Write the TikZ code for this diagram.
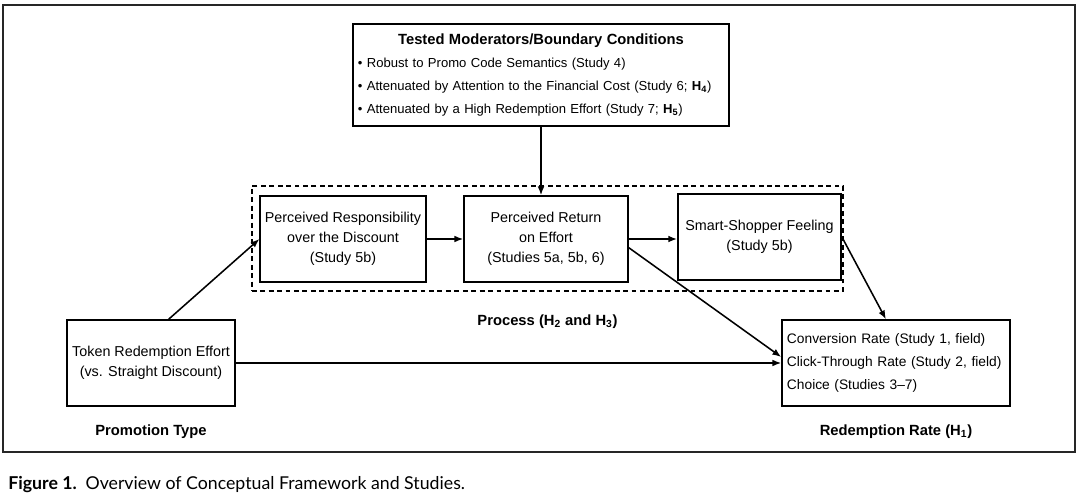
\documentclass[tikz,border=0pt]{standalone}
\usepackage{fontspec}
\setmainfont{Liberation Sans}
\newfontfamily\captionfont{Lato}
\usetikzlibrary{arrows.meta, positioning}

\begin{document}
\begin{tikzpicture}[
    x=0.025cm, y=-0.025cm,
    box/.style={rectangle, minimum width=4.1cm, minimum height=2.15cm, 
                align=center, draw=black, line width=1.1pt, font=\fontsize{10.2}{14.3}\selectfont},
    listbox/.style={rectangle, draw=black, line width=1.1pt, inner sep=0pt, align=left,
                    font=\fontsize{9.8}{16.3}\selectfont},
    groupbox/.style={rectangle, minimum width=14.78cm, minimum height=2.63cm, 
                     draw=black, line width=1.1pt, dash pattern=on 3.5pt off 2.5pt},
    arrow/.style={-{Latex[length=2.2mm, width=1.7mm]}, line width=1.1pt},
    labelstyle/.style={font=\fontsize{10.5}{12}\selectfont\bfseries}
]
\useasboundingbox (0,0) rectangle (1080,499);

% Frame
\draw[line width=0.8pt, draw=black!85] (3,5) rectangle (1075,452);

% ==================== MODERATORS ====================
\node[listbox, minimum width=9.4cm, minimum height=2.55cm, text width=9.15cm, 
      font=\fontsize{9.3}{16.3}\selectfont] (moderators) at (541,75) {
    \makebox[\linewidth]{\fontsize{10.5}{16.3}\selectfont\bfseries Tested Moderators/Boundary Conditions}\\
    \textbullet\ Robust to Promo Code Semantics (Study 4)\\
    \textbullet\ Attenuated by Attention to the Financial Cost (Study 6; \textbf{H\textsubscript{4}})\\
    \textbullet\ Attenuated by a High Redemption Effort (Study 7; \textbf{H\textsubscript{5}})
};

% ==================== PROCESS ====================
\node[groupbox] (process) at (547.5,238.5) {};
\node[labelstyle, below=0.45cm of process.south] (process-label) {Process (H\textsubscript{2} and H\textsubscript{3})};

\node[box, minimum width=4.05cm] (responsibility) at (343,239) {Perceived Responsibility\\over the Discount\\(Study 5b)};
\node[box] (return) at (546,239) {Perceived Return\\on Effort\\(Studies 5a, 5b, 6)};
\node[box, minimum width=4.08cm] (smart-shopper) at (759.5,237) {Smart-Shopper Feeling\\(Study 5b)};

% ==================== PROMOTION TYPE ====================
\node[box, minimum width=4.2cm] (token) at (151,363) {Token Redemption Effort\\(vs. Straight Discount)};
\node[labelstyle, below=0.33cm of token.south] (promotion-label) {Promotion Type};

% ==================== REDEMPTION RATE ====================
\node[listbox, minimum width=5.7cm, minimum height=2.15cm, text width=5.45cm] (redemption) at (896,363) {
    Conversion Rate (Study 1, field)\\
    Click-Through Rate (Study 2, field)\\
    Choice (Studies 3--7)
};
\node[labelstyle, below=0.33cm of redemption.south] (redemption-label) {Redemption Rate (H\textsubscript{1})};

% Caption
\node[anchor=west, inner sep=0pt, font=\captionfont\fontsize{12.6}{14}\selectfont] (caption) at (8,485)
    {\textbf{Figure 1.}\enspace Overview of Conceptual Framework and Studies.};

% ==================== ARROWS ====================
\draw[arrow] (moderators.south) -- (moderators.south |- return.north);
\draw[arrow] (responsibility.east) -- (return.west);
\draw[arrow] (return.east) -- (return.east -| smart-shopper.west);

\draw[arrow] (token.68) -- (responsibility.west);
\draw[arrow] (token.east) -- (redemption.west);
\draw[arrow] (return.-6) -- (redemption.177);
\draw[arrow] (smart-shopper.east) -- (redemption.103);

\end{tikzpicture}
\end{document}
